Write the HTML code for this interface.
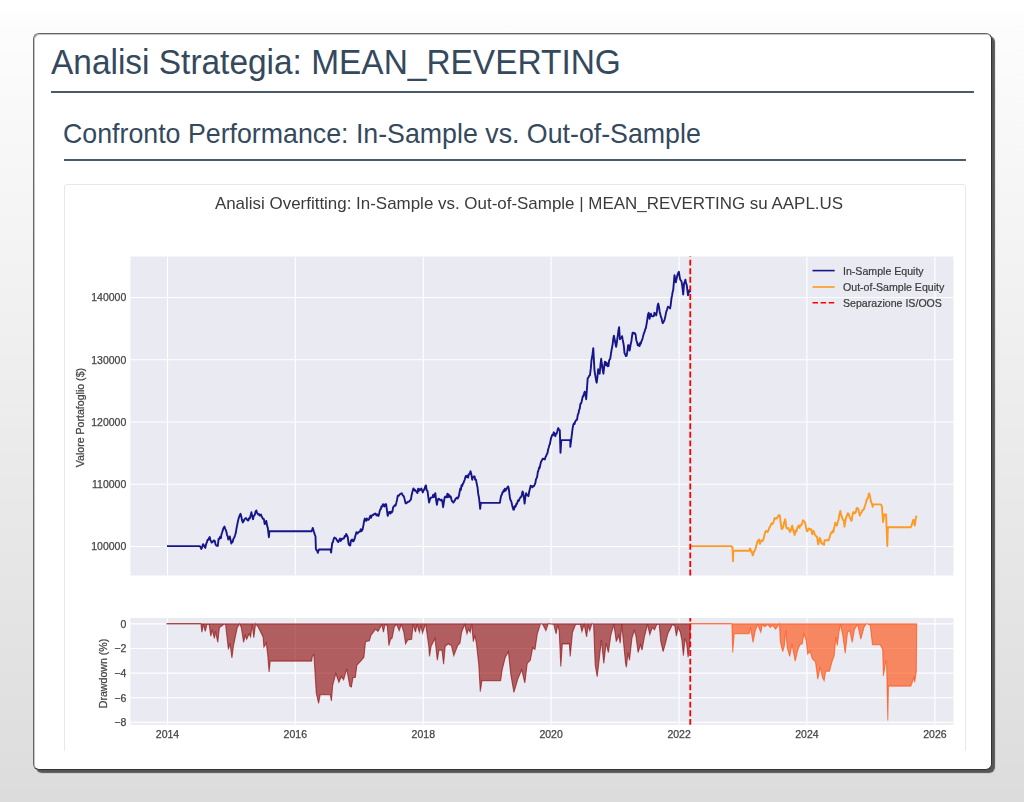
<!DOCTYPE html>
<html><head><meta charset="utf-8"><title>Analisi Strategia</title>
<style>
html,body{margin:0;padding:0;width:1024px;height:802px;overflow:hidden}
body{position:relative;background:#fff;font-family:"Liberation Sans",sans-serif}
.bg{position:absolute;left:0;top:13px;right:0;bottom:0;background:linear-gradient(#fdfdfd,#dcdcdc)}
.card{position:absolute;left:33px;top:33px;width:957px;height:735px;border:1px solid #666;border-right-color:#333;border-bottom-color:#333;border-radius:6px;background:#fff;box-shadow:3px 3px 1px #555,inset 1px 1px 0 #c4c4c4}
.h1{position:absolute;left:51px;top:38px;font-size:33.45px;line-height:48px;transform:scaleY(1.06);transform-origin:0 12px;color:#34495e;white-space:nowrap}
.r1{position:absolute;left:51px;top:91px;width:923px;height:2px;background:#4a5c6c}
.h2{position:absolute;left:63px;top:116px;font-size:26.75px;line-height:36px;color:#34495e;white-space:nowrap}
.r2{position:absolute;left:63.5px;top:159px;width:902.5px;height:2px;background:#4a5c6c}
.cl{position:absolute;left:34px;top:51px;width:956px;height:700px;overflow:hidden}
.box{position:absolute;left:29.5px;top:133px;width:900px;height:700px;border:1px solid #e8e8e8;border-radius:3px;background:#fff}
</style></head><body>
<div class="bg"></div>
<div class="card"></div>
<div class="h1">Analisi Strategia: MEAN_REVERTING</div>
<div class="r1"></div>
<div class="h2">Confronto Performance: In-Sample vs. Out-of-Sample</div>
<div class="r2"></div>
<div class="cl"><div class="box"></div></div>
<svg width="1024" height="802" viewBox="0 0 1024 802" style="position:absolute;left:0;top:0;will-change:transform"><rect x="130.5" y="256.5" width="823.0" height="319.0" fill="#EAEAF2"/><rect x="130.5" y="618.0" width="823.0" height="106.79999999999995" fill="#EAEAF2"/><path d="M167.5,256.5V575.5M167.5,618.0V724.8M295.3,256.5V575.5M295.3,618.0V724.8M423.3,256.5V575.5M423.3,618.0V724.8M551.1,256.5V575.5M551.1,618.0V724.8M679.1,256.5V575.5M679.1,618.0V724.8M806.9,256.5V575.5M806.9,618.0V724.8M934.9,256.5V575.5M934.9,618.0V724.8M130.5,546.45H953.5M130.5,484.21H953.5M130.5,421.97H953.5M130.5,359.73H953.5M130.5,297.49H953.5M130.5,623.90H953.5M130.5,648.53H953.5M130.5,673.16H953.5M130.5,697.79H953.5M130.5,722.42H953.5" stroke="#FFFFFF" stroke-width="1.1" fill="none"/><polygon points="167.0,623.9 167.0,623.6 200.9,623.6 201.9,632.2 203.4,624.4 205.3,631.4 206.9,624.4 209.2,624.4 210.8,636.1 212.3,630.0 214.4,638.4 215.5,631.4 217.8,642.3 219.4,627.5 221.7,626.0 224.1,624.1 225.6,624.4 228.4,649.4 230.0,643.1 231.9,658.0 233.4,646.3 235.0,638.4 237.3,627.5 239.7,623.6 241.3,627.5 243.6,642.3 245.2,635.3 246.7,639.2 249.1,633.8 250.6,636.9 252.2,624.4 253.8,637.7 255.6,623.6 258.4,627.5 263.1,636.9 263.9,647.0 266.3,643.1 267.8,655.6 269.1,672.0 270.2,661.1 311.6,661.1 312.3,656.4 313.9,654.8 316.3,693.1 318.6,703.3 320.2,694.7 330.3,694.7 331.4,700.9 332.7,685.3 335.8,673.6 338.9,682.2 341.3,676.7 343.6,679.8 346.7,668.9 349.8,686.1 351.4,686.9 353.0,677.5 355.3,677.5 356.9,665.0 360.0,661.9 363.9,657.2 365.5,641.6 369.4,640.8 370.9,635.3 375.6,629.1 378.0,631.4 381.9,624.4 383.4,632.2 385.0,624.4 387.3,625.9 388.9,645.5 390.5,639.2 392.0,638.4 394.4,626.7 396.7,624.4 399.1,630.6 401.4,624.4 403.8,632.2 405.6,643.9 407.7,640.0 411.6,639.2 413.1,624.4 415.5,632.2 417.0,624.4 419.4,632.2 420.9,625.2 422.5,633.0 425.6,623.6 428.8,646.3 429.5,656.4 431.1,646.3 435.0,638.4 437.3,660.3 438.9,650.2 442.0,650.2 443.6,664.2 445.2,646.3 448.3,643.9 451.4,645.5 453.8,655.6 457.7,645.5 460.0,643.1 461.6,632.2 464.7,624.4 467.0,633.8 468.6,629.1 470.2,632.2 471.7,623.6 473.3,641.6 474.8,635.3 476.4,643.1 478.8,665.0 480.3,691.6 481.9,680.6 500.6,680.6 502.2,669.7 505.3,657.2 508.4,651.7 510.8,674.4 513.9,692.3 517.8,679.1 521.7,669.7 524.8,683.0 527.2,663.4 530.3,660.3 532.7,647.8 535.0,649.4 537.3,633.8 540.5,623.6 542.8,624.4 545.9,630.6 548.3,623.6 553.8,624.4 556.1,633.8 557.7,625.2 559.2,630.6 560.8,666.6 562.3,643.9 569.4,643.9 570.2,656.4 572.5,632.2 575.6,624.4 580.3,624.4 581.9,631.4 584.2,624.4 586.6,636.9 588.1,625.2 589.7,630.6 592.0,623.6 593.6,624.4 595.2,665.0 597.2,676.7 599.1,660.3 601.4,640.0 603.8,663.4 606.1,643.1 608.4,652.5 610.8,635.3 613.9,624.4 616.3,641.6 618.6,635.3 620.2,643.1 621.7,624.4 623.3,640.0 625.6,663.4 626.4,667.3 628.0,652.5 629.5,660.3 631.9,638.4 634.2,630.6 635.8,635.3 638.1,652.5 640.5,644.7 642.0,650.2 644.4,636.9 647.5,624.4 649.8,634.5 652.2,627.5 654.5,629.8 656.9,624.4 659.2,624.4 660.8,641.6 663.1,651.7 665.5,643.1 667.8,633.8 670.9,627.5 672.5,624.4 674.8,626.0 676.4,636.1 678.0,627.5 680.3,632.2 681.9,640.0 683.4,655.6 685.0,638.4 686.6,643.1 688.1,657.2 689.7,644.7 690.5,624.4 690.5,623.9" fill="#8B0000" fill-opacity="0.6" stroke="#8B0000" stroke-opacity="0.6" stroke-width="1.1"/><polygon points="690.5,623.9 690.5,623.6 731.9,623.6 732.7,652.5 734.2,633.8 749.1,633.8 750.6,627.5 753.0,642.3 755.3,630.6 757.7,624.4 760.8,632.2 762.3,624.4 764.7,626.7 767.8,624.4 770.2,627.5 772.5,625.2 775.6,629.1 779.5,623.6 780.3,641.6 782.7,651.7 784.2,646.3 785.8,630.6 787.3,647.8 789.7,656.4 792.0,643.9 795.2,661.1 797.5,650.9 799.8,644.7 802.2,643.9 803.8,633.8 806.1,640.0 807.7,654.1 810.0,650.9 812.3,658.8 815.5,661.9 817.8,679.1 820.2,666.6 822.5,677.5 824.1,680.6 825.6,671.3 829.5,671.3 831.9,661.9 834.2,655.6 835.8,636.9 837.3,645.5 838.9,632.2 840.5,624.4 842.8,635.3 845.2,653.3 847.5,632.2 849.8,630.6 852.2,642.3 854.5,629.1 857.7,624.4 860.8,639.2 863.9,627.5 866.3,623.6 870.2,625.2 872.5,644.7 880.3,644.7 882.7,649.4 883.4,675.9 885.8,661.1 886.6,661.9 887.8,720.5 888.4,686.1 910.8,686.1 913.9,677.5 914.7,682.2 916.3,671.3 916.7,623.6 916.7,623.9" fill="#FF4500" fill-opacity="0.6" stroke="#FF4500" stroke-opacity="0.6" stroke-width="1.1"/><polyline points="167.0,546.1 199.8,546.1 200.6,547.3 201.4,549.0 202.2,547.1 203.0,544.2 203.8,545.2 204.5,546.4 205.3,547.9 206.1,544.2 206.9,542.1 207.7,539.6 208.4,539.7 209.0,538.2 209.7,537.0 210.3,539.8 211.0,541.0 211.6,542.6 212.4,542.2 213.1,541.3 213.9,540.4 214.7,540.8 215.5,544.2 216.3,545.6 217.0,545.8 217.8,545.9 218.6,538.8 219.4,539.0 220.1,536.8 220.9,538.1 221.5,534.1 222.1,532.5 222.7,530.6 223.3,528.6 224.5,526.6 225.1,528.6 225.8,530.0 226.4,531.8 227.0,534.8 227.7,536.4 228.3,539.6 229.1,538.3 229.8,536.5 230.6,540.3 231.4,543.5 232.1,541.3 232.7,541.9 233.4,538.8 234.2,537.7 235.0,535.6 235.8,532.8 236.6,527.9 237.4,523.9 238.1,520.4 238.9,517.6 239.7,515.4 240.5,513.8 241.3,516.5 242.0,520.1 242.8,522.4 243.6,521.3 244.4,519.3 245.2,518.5 246.0,518.1 246.7,519.0 247.5,520.1 248.3,520.6 249.0,518.3 249.8,518.5 250.6,515.6 251.4,512.2 252.2,516.1 253.0,519.2 253.7,516.0 254.3,515.4 254.9,514.6 255.6,511.5 256.3,510.4 257.0,512.7 257.7,513.7 258.4,514.6 259.0,514.1 259.7,515.6 260.3,515.5 261.0,514.5 261.6,516.1 262.4,517.9 263.1,518.8 263.9,519.2 264.7,524.0 265.5,523.3 266.3,520.9 267.1,525.6 267.8,527.9 268.9,537.2 269.4,531.2 311.6,531.2 312.8,527.9 313.9,531.8 314.7,534.4 315.5,536.5 315.9,549.0 316.5,550.4 317.2,550.4 317.8,552.9 318.9,549.5 330.6,549.5 331.1,552.6 332.2,543.1 333.0,541.9 333.7,538.9 334.5,537.6 335.1,538.0 335.8,538.1 336.4,539.2 337.1,540.4 337.7,541.6 338.4,542.0 339.2,540.1 340.0,538.6 340.8,540.9 341.6,538.7 342.3,539.2 343.1,538.4 343.9,538.5 344.7,536.1 345.5,536.4 346.2,533.9 347.0,535.4 347.8,537.4 348.6,544.0 349.4,545.1 350.2,545.6 350.9,540.9 351.5,540.0 352.2,539.5 352.8,541.2 353.5,541.2 354.1,540.1 354.9,537.6 355.6,535.1 356.4,532.2 357.0,532.5 357.6,533.4 358.3,532.3 358.9,532.1 359.5,531.5 360.1,531.5 360.8,529.1 361.4,531.2 362.1,530.5 362.7,529.1 363.4,525.3 364.2,520.6 364.9,518.6 365.5,519.7 366.1,520.9 366.8,518.4 367.5,519.7 368.1,519.8 368.9,519.5 369.7,517.4 370.4,515.7 371.0,517.8 371.6,516.3 372.3,515.1 373.0,515.1 373.6,514.2 374.4,514.4 375.2,513.5 375.8,514.0 376.4,515.4 377.1,514.3 377.7,515.0 378.3,515.9 378.9,514.9 379.5,512.1 380.2,509.4 380.8,509.2 381.4,506.5 382.2,506.6 383.0,504.2 383.8,504.9 384.5,506.5 385.3,504.1 386.1,504.2 386.9,509.9 387.7,515.9 388.4,513.8 389.2,512.0 389.8,511.9 390.4,513.6 391.0,511.6 391.6,512.6 392.4,511.7 393.1,507.4 393.9,506.5 394.7,505.3 395.5,505.7 396.3,502.9 397.0,499.9 397.8,495.6 398.6,495.8 399.4,494.8 400.2,494.0 400.9,493.7 401.7,493.2 402.3,494.3 402.9,495.6 403.5,495.9 404.1,497.1 404.9,500.4 405.6,503.4 406.4,503.3 407.2,502.3 408.0,501.8 408.8,501.9 409.5,501.2 410.3,500.2 410.9,499.6 411.5,495.8 412.2,492.7 412.8,490.5 413.4,488.5 414.0,489.1 414.7,490.6 415.3,490.1 416.0,491.4 416.6,491.7 417.4,493.0 418.1,488.8 418.9,490.9 419.5,489.2 420.1,489.9 420.7,489.4 421.3,488.5 422.1,490.6 422.8,492.4 423.4,490.6 424.0,490.1 424.7,488.4 425.3,486.3 425.9,485.4 426.7,490.3 427.5,490.9 428.3,497.0 429.1,502.6 429.9,499.7 430.6,497.9 431.2,497.6 431.9,497.3 432.5,497.3 433.2,494.8 433.8,497.1 434.6,494.7 435.3,493.2 436.1,499.9 436.9,504.9 437.6,500.7 438.4,498.7 439.0,498.7 439.7,499.8 440.3,499.9 441.0,500.6 441.6,499.5 442.4,501.8 443.1,507.2 443.9,501.8 444.7,497.1 445.4,496.5 446.0,497.2 446.7,497.4 447.4,493.8 448.1,497.0 448.7,494.5 449.4,495.6 450.0,497.3 450.7,496.5 451.4,499.2 452.0,501.3 452.6,501.2 453.3,502.6 454.1,501.4 454.8,500.7 455.6,498.7 456.2,498.3 456.9,497.6 457.5,498.6 458.2,497.7 458.8,496.2 459.6,492.1 460.3,488.5 460.9,489.8 461.5,485.3 462.2,486.0 462.8,483.9 463.4,483.1 464.0,481.4 464.6,480.1 465.2,477.9 465.8,476.0 466.6,477.1 467.3,475.6 468.1,477.6 468.9,474.1 469.7,473.9 470.5,471.2 471.4,474.6 472.2,479.7 472.9,477.2 473.7,476.7 474.5,476.3 475.2,479.8 476.0,479.7 476.8,484.1 477.5,487.2 478.2,493.7 479.0,497.7 480.2,508.9 480.8,502.9 499.9,502.9 500.7,497.7 501.3,495.3 501.9,494.7 502.5,492.1 503.1,492.3 503.7,490.2 504.3,491.3 504.9,488.7 505.5,490.7 506.1,489.8 506.7,488.7 507.4,487.3 508.2,486.4 508.9,489.5 509.7,496.2 510.3,499.6 510.9,500.5 511.5,502.3 512.2,505.4 512.8,507.7 513.4,509.6 514.0,509.7 514.6,506.2 515.2,507.0 515.8,506.1 516.4,503.6 517.0,504.0 517.6,501.6 518.2,500.2 518.8,500.9 519.4,499.2 520.0,498.1 520.6,497.0 521.2,497.0 521.9,494.4 522.5,491.4 523.1,492.4 523.9,497.6 524.6,503.6 525.4,496.7 526.1,493.2 526.9,494.9 527.6,495.4 528.4,496.2 529.1,492.1 529.9,489.1 530.6,485.7 531.2,486.5 531.8,486.0 532.4,487.3 533.0,486.2 533.6,486.4 534.2,485.6 534.8,484.4 535.4,482.9 536.0,479.2 536.6,478.2 537.2,476.7 537.8,472.0 538.5,470.4 539.1,467.4 539.7,467.9 540.3,464.7 541.1,461.6 541.8,460.7 542.6,458.8 543.3,458.8 544.1,459.2 544.8,459.5 545.5,457.1 546.3,455.8 546.9,453.9 547.5,453.2 548.1,449.5 548.7,447.8 549.3,445.2 549.9,444.1 550.5,440.9 551.1,437.8 551.7,436.4 552.3,434.8 553.0,435.2 553.8,432.3 554.5,433.2 555.3,436.2 555.9,434.1 556.5,433.9 557.1,432.0 557.7,429.7 558.3,428.1 559.0,429.9 559.8,430.2 560.5,452.8 561.3,440.1 570.3,440.1 570.3,446.8 571.0,441.5 571.8,434.8 572.5,429.1 573.2,425.1 573.8,423.6 574.5,424.1 575.1,421.9 575.7,420.8 576.4,420.0 577.0,419.9 577.2,418.6 577.8,414.7 578.5,413.4 579.1,410.0 579.7,408.9 580.4,403.9 581.0,403.6 581.6,401.9 582.2,399.0 582.9,395.9 583.5,396.3 584.1,393.4 584.7,391.7 585.5,393.4 586.2,399.2 587.0,387.9 587.7,378.2 588.5,377.4 589.2,375.7 590.0,375.2 590.8,368.4 591.5,360.2 592.4,354.9 593.3,348.2 593.9,360.0 594.5,370.7 595.2,374.9 596.0,379.9 596.7,382.7 597.5,376.5 598.2,369.2 599.0,371.8 599.7,373.7 600.5,364.3 601.2,358.8 601.9,364.5 602.7,369.9 603.4,373.7 604.1,367.4 604.9,361.7 605.5,362.1 606.1,365.2 606.7,362.8 607.3,365.7 607.9,366.2 608.5,366.0 609.1,360.6 609.7,359.6 610.3,358.3 610.9,354.2 611.5,350.4 612.1,347.3 612.7,343.8 613.3,338.5 613.9,335.6 614.6,339.2 615.4,343.3 616.1,346.8 616.7,343.6 617.3,338.9 617.9,334.9 618.5,330.2 619.1,327.2 619.9,339.2 620.6,337.9 621.4,338.1 622.1,336.2 622.7,339.9 623.3,342.7 623.9,346.3 624.5,353.1 625.1,354.2 625.9,356.0 626.6,355.8 627.4,351.1 628.1,345.2 628.9,345.5 629.6,350.5 630.2,347.4 630.8,343.7 631.4,341.2 632.0,336.5 632.6,332.6 633.4,332.7 634.1,333.5 634.9,333.2 635.6,334.5 636.3,340.2 637.1,342.5 637.8,345.2 638.4,344.3 639.0,345.8 639.6,346.0 640.2,342.8 640.8,343.8 641.4,341.2 642.1,340.0 642.7,337.9 643.3,335.4 644.0,332.9 644.6,331.8 645.2,329.4 645.9,327.8 646.7,323.3 647.4,318.9 648.0,314.7 648.7,312.8 649.6,318.9 650.2,315.0 650.9,313.7 651.6,316.0 652.4,316.3 653.1,316.2 653.8,316.1 654.4,312.8 655.0,314.3 655.6,313.7 656.2,315.4 656.9,311.7 657.6,305.5 658.3,303.6 659.0,307.0 659.7,311.9 660.3,314.1 660.9,316.9 661.5,318.0 662.1,320.9 662.7,323.2 663.6,321.9 664.5,319.8 665.4,316.1 666.2,311.9 667.0,309.8 667.9,306.7 668.6,307.4 669.4,307.5 670.1,308.4 670.8,304.3 671.4,298.8 672.0,295.9 672.6,292.2 673.2,290.1 673.9,282.0 674.5,275.2 675.1,278.6 675.8,282.2 676.4,279.5 677.0,277.1 677.6,274.4 678.2,273.0 678.9,271.8 679.5,275.8 680.2,279.6 680.9,280.3 681.5,281.4 682.4,286.8 683.2,294.5 684.1,283.1 684.8,281.7 685.4,279.6 686.0,283.1 686.7,284.9 687.4,290.4 688.0,295.2 688.6,292.5 689.3,290.1 690.3,292.4" fill="none" stroke="#16168a" stroke-width="1.9" stroke-linejoin="round"/><polyline points="690.3,546.1 731.3,546.1 731.9,547.1 732.5,547.3 733.0,561.3 733.3,550.8 748.9,550.8 750.0,548.4 750.6,549.3 751.2,552.0 752.0,552.0 752.7,555.5 753.4,554.0 754.0,551.5 754.7,550.8 755.6,548.5 756.5,544.9 757.4,541.6 758.2,540.2 759.1,539.6 760.0,543.8 760.9,541.1 761.8,540.2 762.6,541.1 763.5,539.1 764.4,535.2 765.3,532.0 766.1,530.8 766.8,531.3 767.6,532.0 768.5,530.2 769.4,527.4 770.2,526.5 770.9,524.8 771.7,523.3 772.6,524.0 773.5,522.1 774.6,518.0 775.5,518.9 776.4,518.6 777.2,517.4 778.0,516.7 778.8,515.0 779.9,515.6 780.5,521.6 781.1,525.5 781.7,529.1 782.5,528.6 783.4,526.2 784.0,522.9 784.6,521.4 785.2,519.2 786.4,527.9 787.2,528.6 788.1,527.9 789.0,529.7 789.9,532.0 790.7,530.8 791.4,528.3 792.2,525.6 793.0,529.6 793.8,531.7 794.6,535.0 795.7,530.3 796.3,531.7 796.9,529.5 797.5,527.3 798.1,526.6 798.7,525.6 799.5,527.9 800.2,525.3 801.0,525.6 801.6,524.6 802.3,522.9 802.9,520.2 803.7,521.4 804.5,521.5 805.3,523.8 806.1,527.8 807.0,531.4 807.9,530.2 808.8,528.4 809.6,529.6 810.3,529.5 811.1,529.0 812.3,534.3 812.9,532.6 813.5,530.8 814.4,533.6 815.2,534.9 816.1,536.3 817.0,536.7 817.6,540.7 818.2,544.3 819.0,541.1 819.9,537.8 820.5,539.5 821.1,542.4 821.7,543.7 822.5,543.2 823.2,543.9 824.0,544.9 824.6,540.2 828.7,540.2 829.6,537.3 830.5,534.3 831.2,532.4 832.0,532.8 832.7,530.8 833.4,532.0 834.0,528.3 834.6,526.2 835.2,522.6 836.0,524.6 836.9,525.5 837.5,523.3 838.1,521.0 838.7,519.1 839.5,513.7 840.4,510.9 841.0,514.9 841.6,516.0 842.2,517.9 843.0,520.0 843.9,520.2 844.5,526.7 845.4,520.9 846.3,516.7 847.1,515.6 847.8,513.1 848.6,513.8 849.5,516.9 850.4,518.5 851.0,520.5 851.6,520.8 852.7,513.8 853.5,511.9 854.3,513.4 855.1,513.2 855.9,512.0 856.6,508.1 857.4,507.9 858.2,508.8 859.0,512.1 859.8,515.6 860.6,513.5 861.5,512.6 862.3,510.2 863.1,510.3 863.9,509.1 864.6,506.8 865.3,504.7 866.1,502.3 866.8,499.2 867.6,498.6 868.3,496.3 869.1,493.3 870.0,496.2 870.9,501.5 871.5,502.8 872.1,504.1 872.7,506.8 873.2,504.4 880.3,504.4 881.1,504.6 882.0,506.8 883.0,522.0 883.7,518.1 884.4,514.4 885.2,514.4 886.1,514.4 887.3,546.0 887.9,527.3 910.7,527.3 911.6,525.4 912.5,522.6 913.1,520.0 913.7,520.2 914.8,525.5 915.6,519.4 916.4,515.6" fill="none" stroke="#fc9a24" stroke-width="1.9" stroke-linejoin="round"/><path d="M690.25,575.5V256.5M690.25,724.8V618.0" stroke="#FF0000" stroke-width="1.8" stroke-dasharray="5.9,2.71" fill="none"/><path d="M812.5,270.6H834.7" stroke="#16168a" stroke-width="1.6"/><path d="M812.5,287H834.7" stroke="#fc9a24" stroke-width="1.6"/><path d="M812.5,302.7H834.7" stroke="#FF0000" stroke-width="1.6" stroke-dasharray="5.5,2.6"/><g font-family="Liberation Sans, sans-serif" font-size="10.6" fill="#3a3a3a" stroke="#3a3a3a" stroke-width="0.2"><text x="843" y="275">In-Sample Equity</text><text x="843" y="291.4">Out-of-Sample Equity</text><text x="843" y="307.1">Separazione IS/OOS</text></g><g font-family="Liberation Sans, sans-serif" font-size="10.5" fill="#444" stroke="#444" stroke-width="0.25"><text x="126.3" y="550.2" text-anchor="end">100000</text><text x="126.3" y="488.0" text-anchor="end">110000</text><text x="126.3" y="425.8" text-anchor="end">120000</text><text x="126.3" y="363.5" text-anchor="end">130000</text><text x="126.3" y="301.3" text-anchor="end">140000</text><text x="126.3" y="627.7" text-anchor="end">0</text><text x="126.3" y="652.3" text-anchor="end">−2</text><text x="126.3" y="677.0" text-anchor="end">−4</text><text x="126.3" y="701.6" text-anchor="end">−6</text><text x="126.3" y="726.2" text-anchor="end">−8</text><text x="167.5" y="737.8" text-anchor="middle">2014</text><text x="295.3" y="737.8" text-anchor="middle">2016</text><text x="423.3" y="737.8" text-anchor="middle">2018</text><text x="551.1" y="737.8" text-anchor="middle">2020</text><text x="679.1" y="737.8" text-anchor="middle">2022</text><text x="806.9" y="737.8" text-anchor="middle">2024</text><text x="934.9" y="737.8" text-anchor="middle">2026</text></g><g font-family="Liberation Sans, sans-serif" font-size="10.75" fill="#444" stroke="#444" stroke-width="0.25"><text transform="translate(83.5,417.6) rotate(-90)" font-size="10.6" text-anchor="middle">Valore Portafoglio ($)</text><text transform="translate(106.6,673.5) rotate(-90)" font-size="10.6" text-anchor="middle">Drawdown (%)</text></g><text x="529" y="208.7" text-anchor="middle" font-family="Liberation Sans, sans-serif" font-size="16.95" fill="#3b3b3b">Analisi Overfitting: In-Sample vs. Out-of-Sample | MEAN_REVERTING su AAPL.US</text></svg>
</body></html>
